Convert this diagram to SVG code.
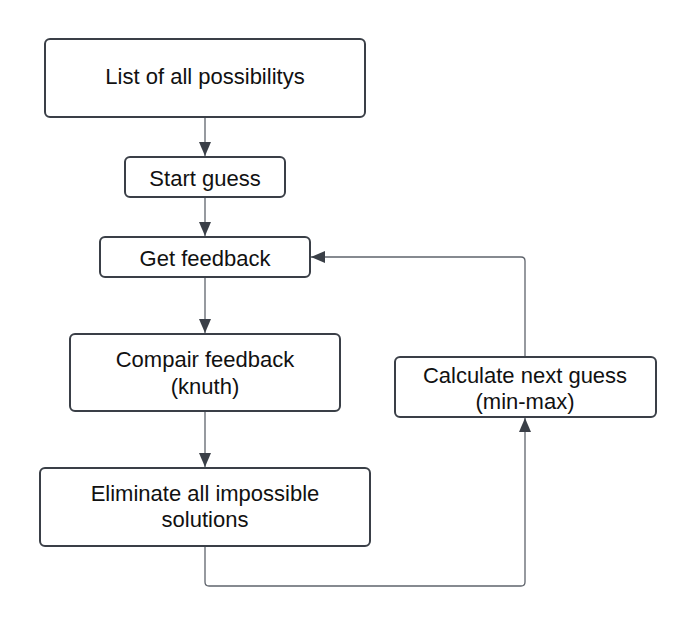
<svg xmlns="http://www.w3.org/2000/svg" width="695" height="627" viewBox="0 0 695 627">
<defs>
<style>
.box{fill:#ffffff;stroke:#3a3f47;stroke-width:2}
.lbl{font-family:"Liberation Sans",Arial,sans-serif;font-size:22px;fill:#111111;text-anchor:middle}
.conn{fill:none;stroke:#5f646c;stroke-width:1.3}
</style>
<marker id="arr" viewBox="0 0 14 12" refX="14" refY="6" markerWidth="14" markerHeight="12" markerUnits="userSpaceOnUse" orient="auto">
<path d="M0,0 L14,6 L0,12 Z" fill="#3a3f47"/>
</marker>
</defs>
<rect width="695" height="627" fill="#ffffff"/>
<g id="connectors">
<path class="conn" d="M205,117 L205,156" marker-end="url(#arr)"/>
<path class="conn" d="M205,197 L205,236" marker-end="url(#arr)"/>
<path class="conn" d="M205,277 L205,333" marker-end="url(#arr)"/>
<path class="conn" d="M205,411 L205,467" marker-end="url(#arr)"/>
<path class="conn" d="M205,546 L205,582 Q205,586 209,586 L521,586 Q525,586 525,582 L525,418" marker-end="url(#arr)"/>
<path class="conn" d="M525,357 L525,261 Q525,257 521,257 L311,257" marker-end="url(#arr)"/>
</g>
<g id="node-list">
<rect class="box" x="45" y="39" width="320" height="78" rx="5"/>
<text class="lbl" x="205" y="83.5">List of all possibilitys</text>
</g>
<g id="node-start">
<rect class="box" x="125" y="157" width="160" height="40" rx="5"/>
<text class="lbl" x="205" y="186">Start guess</text>
</g>
<g id="node-feedback">
<rect class="box" x="100" y="237" width="210" height="40" rx="5"/>
<text class="lbl" x="205" y="266">Get feedback</text>
</g>
<g id="node-compair">
<rect class="box" x="70" y="334" width="270" height="77" rx="5"/>
<text class="lbl" x="205" y="367">Compair feedback</text>
<text class="lbl" x="205" y="393.5">(knuth)</text>
</g>
<g id="node-eliminate">
<rect class="box" x="40" y="468" width="330" height="78" rx="5"/>
<text class="lbl" x="205" y="501">Eliminate all impossible</text>
<text class="lbl" x="205" y="527">solutions</text>
</g>
<g id="node-calculate">
<rect class="box" x="395" y="357" width="261" height="60" rx="5"/>
<text class="lbl" x="525" y="383">Calculate next guess</text>
<text class="lbl" x="525" y="409">(min-max)</text>
</g>
</svg>
